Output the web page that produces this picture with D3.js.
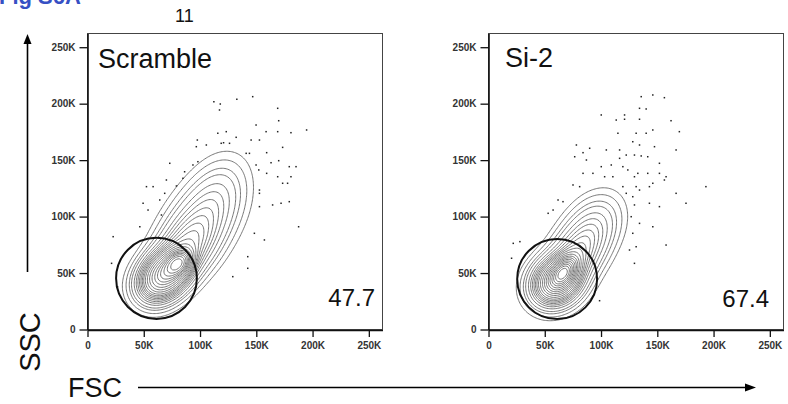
<!DOCTYPE html>
<html>
<head>
<meta charset="utf-8">
<script src="https://cdn.jsdelivr.net/npm/d3@7"></script>
<style>
  body { margin: 0; background: #fff; }
  svg { display: block; }
  text { font-family: "Liberation Sans", Arial, Helvetica, sans-serif; }
</style>
</head>
<body>
<svg id="chart" width="788" height="404"></svg>
<script>
// ---- data (scatter values in thousands of channel units) ----
const panelNames = ["Scramble", "Si-2"];
const gatePercents = ["47.7", "67.4"];

const axisTickValues = [0, 50, 100, 150, 200, 250];
const axisTickLabels = ["0", "50K", "100K", "150K", "200K", "250K"];
const minorTickValues = [10, 20, 30, 40, 60, 70, 80, 90, 110, 120, 130, 140,
                         160, 170, 180, 190, 210, 220, 230, 240, 260];

// fraction of events lying outside each contour line
const contourLevels = [0.02, 0.04, 0.07, 0.10, 0.15, 0.20, 0.25, 0.30, 0.35, 0.40, 0.45,
                       0.50, 0.55, 0.60, 0.65, 0.70, 0.75, 0.80, 0.85, 0.90, 0.95];

// population components: centre (mx,my), spread (sx,sy), correlation, weight
const scramblePopulation = [
  { mx: 60,  my: 40,  sx: 12, sy: 12, rho: 0.1,  w: 0.10 },
  { mx: 70,  my: 50,  sx: 12, sy: 12, rho: 0.2,  w: 0.28 },
  { mx: 81,  my: 59,  sx: 7,  sy: 7,  rho: 0.3,  w: 0.12 },
  { mx: 85,  my: 68,  sx: 16, sy: 18, rho: 0.4,  w: 0.20 },
  { mx: 95,  my: 86,  sx: 19, sy: 22, rho: 0.4,  w: 0.15 },
  { mx: 106, my: 104, sx: 19, sy: 22, rho: 0.35, w: 0.10 },
  { mx: 116, my: 123, sx: 16, sy: 20, rho: 0.3,  w: 0.05 }
];
const si2Population = [
  { mx: 60, my: 42, sx: 13, sy: 12.5, rho: 0.15, w: 0.42 },
  { mx: 67, my: 51, sx: 7,  sy: 8,  rho: 0.4,  w: 0.16 },
  { mx: 74, my: 60, sx: 15, sy: 17, rho: 0.4,  w: 0.20 },
  { mx: 84, my: 76, sx: 16, sy: 19, rho: 0.4,  w: 0.14 },
  { mx: 94, my: 93, sx: 15, sy: 17, rho: 0.3,  w: 0.08 }
];

// circular gates: [centre x, centre y, radius]
const scrambleGate = [61.3, 45.3, 35.9];
const si2Gate = [61.0, 44.7, 35.5];

// events falling outside the outer contour
const scrambleOutliers = [
  [112.3,201.7],[118.0,199.7],[117.3,194.4],[132.7,203.9],[146.8,206.2],[169.0,195.9],
  [169.9,184.9],[149.8,181.1],[158.7,175.2],[169.0,175.2],[180.8,174.3],[194.7,176.7],
  [115.8,173.8],[123.3,175.2],[132.1,170.2],[145.4,167.8],[152.8,167.8],[97.6,167.8],
  [96.7,161.9],[105.6,163.4],[120.9,165.4],[141.0,156.0],[173.4,161.3],[159.2,156.6],
  [169.9,149.5],[163.1,147.7],[98.1,148.6],[93.7,145.7],[73.1,147.2],[86.3,139.7],
  [84.8,133.9],[70.1,132.4],[52.4,126.5],[58.3,126.5],[79.0,127.1],[68.6,120.6],
  [149.8,145.7],[152.2,141.3],[159.2,138.3],[169.0,135.3],[179.3,144.2],[185.3,144.2],
  [180.8,135.3],[152.8,123.5],[152.8,120.6],[173.4,129.5],[177.8,129.5],[152.8,108.8],
  [164.5,110.3],[172.0,111.8],[179.3,113.2],[187.6,91.0],[157.2,79.3],[142.4,64.5],
  [142.4,54.2],[129.1,46.8],[53.8,105.8],[49.4,111.8],[46.5,91.0],[22.8,82.2],
  [21.4,58.6],[26.7,37.9],[118.8,164.9],[126.2,164.9],[143.9,156.0],[64.2,114.7],
  [65.7,101.4],[148.3,85.2]
];
const si2Outliers = [
  [135.7,206.2],[146.0,207.7],[156.3,205.3],[134.2,195.9],[140.1,195.3],[120.9,190.0],
  [100.2,190.0],[113.5,185.5],[120.9,186.2],[134.2,186.2],[162.2,184.9],[115.0,173.8],
  [131.2,173.8],[140.1,173.8],[146.0,176.7],[169.6,175.2],[128.2,166.3],[134.2,163.4],
  [147.5,161.9],[166.7,159.0],[78.1,163.4],[84.0,156.6],[89.9,160.5],[104.7,159.0],
  [116.5,159.0],[122.4,154.5],[129.7,154.5],[116.5,151.6],[135.7,153.7],[141.5,153.0],
  [151.9,147.2],[76.6,153.0],[87.0,150.1],[100.2,144.2],[109.1,145.7],[119.4,144.2],
  [123.8,141.3],[132.7,138.3],[141.5,138.3],[151.9,138.3],[157.8,135.3],[156.3,132.4],
  [166.7,120.6],[175.5,111.8],[193.2,126.5],[84.0,138.3],[92.8,138.3],[103.2,135.3],
  [110.5,135.3],[129.7,135.3],[131.2,126.5],[143.0,126.5],[134.2,123.5],[146.0,129.5],
  [119.4,126.5],[122.4,120.6],[75.1,128.0],[81.0,126.5],[128.2,117.6],[129.7,110.3],
  [143.0,111.8],[151.9,108.8],[126.8,99.9],[134.2,94.0],[146.0,91.0],[128.2,85.2],
  [131.2,73.3],[157.8,74.8],[125.3,70.4],[129.7,58.6],[98.7,25.5],[61.8,114.7],
  [66.2,113.2],[57.4,105.8],[53.0,102.9],[22.0,76.3],[27.9,77.8],[20.5,63.1]
];

// ---- layout ----
const AXIS_MAX = 262.144;
const plotTop = 33.5, plotBottom = 329.5, plotWidth = 295;
const panels = [
  { name: panelNames[0], pct: gatePercents[0], pop: scramblePopulation, gate: scrambleGate,
    outliers: scrambleOutliers, x0: 87.5, nameX: 98, nameY: 68, pctX: 375, pctY: 306 },
  { name: panelNames[1], pct: gatePercents[1], pop: si2Population, gate: si2Gate,
    outliers: si2Outliers, x0: 488.5, nameX: 505, nameY: 67, pctX: 769, pctY: 307 }
];

const svg = d3.select("#chart");
const FONT = '"Liberation Sans", Arial, Helvetica, sans-serif';

function density(pop, x, y) {
  let s = 0;
  for (const c of pop) {
    const dx = (x - c.mx) / c.sx, dy = (y - c.my) / c.sy;
    const q = 1 - c.rho * c.rho;
    s += c.w / (2 * Math.PI * c.sx * c.sy * Math.sqrt(q)) *
         Math.exp(-(dx * dx - 2 * c.rho * dx * dy + dy * dy) / (2 * q));
  }
  return s;
}

panels.forEach((p, idx) => {
  const x = d3.scaleLinear().domain([0, AXIS_MAX]).range([p.x0, p.x0 + plotWidth]);
  const y = d3.scaleLinear().domain([0, AXIS_MAX]).range([plotBottom, plotTop]);
  const g = svg.append("g");

  const clipId = "clip" + idx;
  svg.append("defs").append("clipPath").attr("id", clipId)
    .append("rect").attr("x", p.x0).attr("y", plotTop)
    .attr("width", plotWidth).attr("height", plotBottom - plotTop);

  // density grid and equal-probability contours
  const n = 220, step = AXIS_MAX / n;
  const values = new Float64Array(n * n);
  for (let j = 0; j < n; j++)
    for (let i = 0; i < n; i++)
      values[j * n + i] = density(p.pop, (i + 0.5) * step, (j + 0.5) * step);
  const sorted = Array.from(values).sort((a, b) => a - b);
  const total = d3.sum(sorted);
  const thresholds = [];
  let cum = 0, k = 0;
  for (let li = 0; li < contourLevels.length; li++) {
    const target = contourLevels[li] * total;
    while (k < sorted.length && cum + sorted[k] < target) { cum += sorted[k]; k++; }
    thresholds.push(sorted[Math.min(k, sorted.length - 1)]);
  }
  const contours = d3.contours().size([n, n]).thresholds(thresholds)(values);
  const proj = d3.geoTransform({
    point: function (gx, gy) { this.stream.point(x(gx * step), y(gy * step)); }
  });
  const path = d3.geoPath(proj);

  const plot = g.append("g").attr("clip-path", `url(#${clipId})`);
  plot.selectAll("path.contour").data(contours).join("path")
    .attr("class", "contour")
    .attr("d", path)
    .attr("fill", "none")
    .attr("stroke", "#666")
    .attr("stroke-width", 0.9)
    .attr("stroke-linejoin", "round");

  // outlier events
  plot.selectAll("rect.evt").data(p.outliers).join("rect")
    .attr("class", "evt")
    .attr("x", d => x(d[0]) - 0.75).attr("y", d => y(d[1]) - 0.75)
    .attr("width", 1.5).attr("height", 1.5)
    .attr("fill", "#222");

  // gate
  const [gx, gy, gr] = p.gate;
  plot.append("ellipse")
    .attr("cx", x(gx)).attr("cy", y(gy))
    .attr("rx", x(gx + gr) - x(gx)).attr("ry", y(gy) - y(gy + gr))
    .attr("fill", "none").attr("stroke", "#111").attr("stroke-width", 2);

  // frame
  g.append("rect").attr("x", p.x0).attr("y", plotTop)
    .attr("width", plotWidth).attr("height", plotBottom - plotTop)
    .attr("fill", "none").attr("stroke", "#444").attr("stroke-width", 1);

  // axes
  const xMajor = d3.axisBottom(x).tickValues(axisTickValues)
    .tickFormat((d, i) => axisTickLabels[i]).tickSize(7).tickSizeOuter(0).tickPadding(5);
  const xMinor = d3.axisBottom(x).tickValues(minorTickValues)
    .tickFormat("").tickSize(3.5).tickSizeOuter(0);
  const yMajor = d3.axisLeft(y).tickValues(axisTickValues)
    .tickFormat((d, i) => axisTickLabels[i]).tickSize(8).tickSizeOuter(0).tickPadding(4);
  const yMinor = d3.axisLeft(y).tickValues(minorTickValues)
    .tickFormat("").tickSize(3.5).tickSizeOuter(0);

  const axX = g.append("g").attr("transform", `translate(0,${plotBottom + 0.5})`);
  axX.call(xMinor);
  axX.call(xMajor);
  const axY = g.append("g").attr("transform", `translate(${p.x0},0)`);
  axY.call(yMinor);
  axY.call(yMajor);

  [axX, axY].forEach(a => {
    a.selectAll(".domain").attr("stroke", "#111").attr("stroke-width", 1.6);
    a.selectAll(".tick line").attr("stroke", "#111").attr("stroke-width", 1.3);
    a.selectAll(".tick text").attr("font-family", FONT).attr("font-size", 10)
      .attr("font-weight", "bold").attr("fill", "#333");
  });

  // labels
  g.append("text").attr("x", p.nameX).attr("y", p.nameY)
    .attr("font-size", 27).attr("fill", "#111").text(p.name);
  g.append("text").attr("x", p.pctX).attr("y", p.pctY).attr("text-anchor", "end")
    .attr("font-size", 24).attr("fill", "#111").text(p.pct);
});

// figure title and page number
svg.append("text").attr("x", -1).attr("y", 4)
  .attr("font-size", 22).attr("font-weight", "bold").attr("fill", "#3650c4")
  .text("Fig S6A");
svg.append("text").attr("x", 175).attr("y", 22)
  .attr("font-size", 18).attr("fill", "#111").text("11");

// parameter arrows
const arrow = svg.append("g").attr("fill", "#000").attr("stroke", "#000");
arrow.append("line").attr("x1", 27.5).attr("y1", 272).attr("x2", 27.5).attr("y2", 42)
  .attr("stroke-width", 1.6);
arrow.append("path").attr("d", "M27.5,34 L23.5,44 L31.5,44 Z").attr("stroke", "none");
arrow.append("line").attr("x1", 138).attr("y1", 387.5).attr("x2", 747).attr("y2", 387.5)
  .attr("stroke-width", 1.6);
arrow.append("path").attr("d", "M756,387.5 L745,383.5 L745,391.5 Z").attr("stroke", "none");

svg.append("text").attr("transform", "translate(40,342) rotate(-90)")
  .attr("text-anchor", "middle").attr("font-size", 29).attr("fill", "#111").text("SSC");
svg.append("text").attr("x", 68).attr("y", 397)
  .attr("font-size", 27).attr("fill", "#111").text("FSC");
</script>
</body>
</html>
